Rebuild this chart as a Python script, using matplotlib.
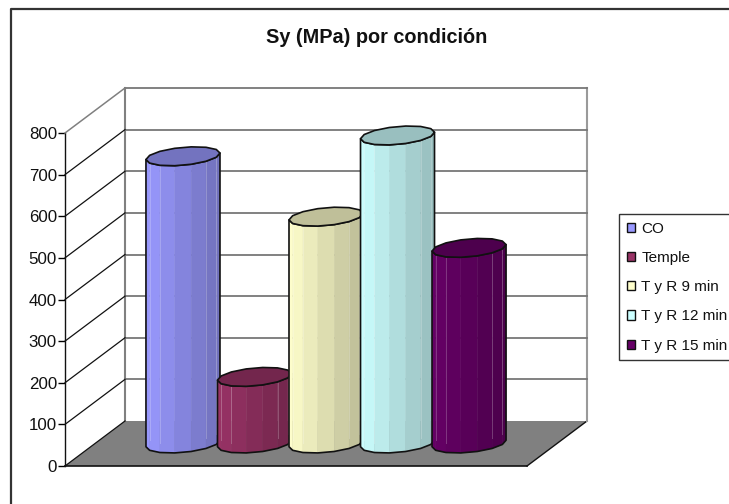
import numpy as np
import matplotlib
matplotlib.use("Agg")
import matplotlib.pyplot as plt
from matplotlib.colors import to_rgb
from matplotlib.patches import Patch, Polygon
from matplotlib.lines import Line2D
from matplotlib.transforms import Affine2D

plt.rcParams["font.family"] = ["Liberation Sans", "DejaVu Sans"]

TITLE = "Sy (MPa) por condición"
categories = ["CO", "Temple", "T y R 9 min", "T y R 12 min", "T y R 15 min"]
values = [690, 160, 545, 740, 470]
colors = ["#9999FF", "#993366", "#FFFFCC", "#CCFFFF", "#660066"]
y_ticks = [0, 100, 200, 300, 400, 500, 600, 700, 800]

W, H = 729, 504
DX, DY = 60, 45          # depth of the box, in pixels
RADIUS_X, RADIUS_Y = 37, 9.5
FACETS = 14

fig = plt.figure(figsize=(W / 100, H / 100), dpi=100)

# The front plane of the box carries the value and category scales.
ax = fig.add_axes([65 / W, 1 - 466 / H, 462 / W, 333 / H])
ax.set_xlim(-1.23, 5.23)
ax.set_ylim(0, 800)
ax.patch.set_visible(False)
for s in ax.spines.values():
    s.set_visible(False)
ax.set_xticks([])
ax.set_yticks(y_ticks)
ax.tick_params(axis="y", length=5, width=1, color="black", labelsize=12.2, pad=0.8,
               labelcolor="#111111")


def depth_axes(frac):
    """Axes-fraction transform for a plane part of the way into the box."""
    return ax.transAxes + Affine2D().translate(DX * frac, DY * frac)


def depth_data(frac):
    """Data transform for a plane part of the way into the box."""
    return ax.transData + Affine2D().translate(DX * frac, DY * frac)


# Chart frame: only its top and left edges fall inside the canvas
fig.add_artist(Line2D([10.5 / W, 10.5 / W, 1.0], [0, 1 - 9 / H, 1 - 9 / H],
                      transform=fig.transFigure, color="#333333", lw=1.6))

# Floor, walls and gridlines
back = depth_axes(1)
front = depth_axes(0)
corner = lambda tr, x, y: tuple(tr.transform((x, y)))
floor_px = [corner(front, 0, 0), corner(back, 0, 0), corner(back, 1, 0), corner(front, 1, 0)]
ax.add_patch(Polygon(floor_px, closed=True, transform=None, fc="#808080", ec="none",
                     zorder=1, clip_on=False))
ax.plot([0, 1], [0, 0], transform=front, color="#111111", lw=1.2, zorder=2, clip_on=False)
ax.plot([0, 0], [0, 1], transform=front, color="#111111", lw=1, zorder=2, clip_on=False)
ax.plot([floor_px[3][0], floor_px[2][0]], [floor_px[3][1], floor_px[2][1]],
        transform=None, color="#111111", lw=1, zorder=2, clip_on=False)
ax.plot([0, 0], [0, 1], transform=back, color="#808080", lw=1.5, zorder=2, clip_on=False)
ax.plot([1, 1], [0, 1], transform=back, color="#9a9a9a", lw=1.5, zorder=2, clip_on=False)

x0, x1 = ax.get_xlim()
for v in y_ticks:
    top = v == y_ticks[-1]
    if v > 0:
        ax.plot([x0, x1], [v, v], transform=depth_data(1), color="#777777", lw=1.3,
                zorder=2, clip_on=False)
    a = ax.transData.transform((x0, v))
    ax.plot([a[0], a[0] + DX], [a[1], a[1] + DY], transform=None,
            color="#808080" if top else "#111111", lw=1.1 if top else 0.9,
            zorder=2, clip_on=False)


def shade(color, f):
    return tuple(c * f for c in to_rgb(color))


def draw_cylinder(pos, value, color, z):
    """Faceted cylinder standing in the middle of the floor depth."""
    cx, base_y = depth_data(0.5).transform((pos, 0))
    _, top_y = depth_data(0.5).transform((pos, value))

    shear = RADIUS_Y * 4 / 3
    ax_r = np.sqrt(RADIUS_X ** 2 - shear ** 2)
    t_right = np.arctan2(shear, ax_r)

    # Cap vertices; the first half runs over the back, the second along the front
    t = t_right + np.linspace(0, 2 * np.pi, FACETS + 1)
    ex = ax_r * np.cos(t) + shear * np.sin(t)
    ey = RADIUS_Y * np.sin(t)
    half = FACETS // 2
    sx, sy = ex[half:], ey[half:]

    n = len(sx) - 1
    for i in range(n):
        f = 1.0 - 0.27 * (0.5 * (sx[i] + sx[i + 1]) + RADIUS_X) / (2 * RADIUS_X)
        quad = [(cx + sx[i], top_y + sy[i]), (cx + sx[i + 1], top_y + sy[i + 1]),
                (cx + sx[i + 1], base_y + sy[i + 1]), (cx + sx[i], base_y + sy[i])]
        ax.add_patch(Polygon(quad, closed=True, transform=None, fc=shade(color, f),
                             ec=shade(color, f), lw=0.3, zorder=z, clip_on=False))
    for i in (1, 2, 5, 6):
        ax.plot([cx + sx[i]] * 2, [base_y + sy[i] + 10, top_y + sy[i]], transform=None,
                color="white", alpha=0.22, lw=0.7, zorder=z, clip_on=False)

    outline = [(cx + a, top_y + b) for a, b in zip(sx, sy)] + \
              [(cx + a, base_y + b) for a, b in zip(sx[::-1], sy[::-1])]
    ax.add_patch(Polygon(outline, closed=True, transform=None, fc="none", ec="#111111",
                         lw=1.2, zorder=z, clip_on=False, joinstyle="round"))
    cap = np.column_stack([cx + ex, top_y + ey])
    ax.add_patch(Polygon(cap, closed=True, transform=None, fc=shade(color, 0.75),
                         ec="#111111", lw=1.2, zorder=z, clip_on=False, joinstyle="round"))


for i, (v, c) in enumerate(zip(values, colors)):
    draw_cylinder(i, v, c, 5 + i)

fig.text(376.5 / W, 1 - 37.5 / H, TITLE, ha="center", va="center", fontsize=14.3,
         fontweight="bold", color="#111111")

handles = [Patch(fc=c, ec="#111111", lw=1) for c in colors]
leg = fig.legend(handles, categories, loc="upper left",
                 bbox_to_anchor=(619 / W, 1 - 214 / H), bbox_transform=fig.transFigure,
                 fontsize=11, frameon=True, fancybox=False, edgecolor="#333333",
                 framealpha=1, handlelength=0.55, handleheight=0.55, handletextpad=0.4,
                 labelspacing=1.0, borderpad=0.5, borderaxespad=0, labelcolor="#111111")
leg.get_frame().set_linewidth(1)

fig.savefig("out.png", dpi=100)
